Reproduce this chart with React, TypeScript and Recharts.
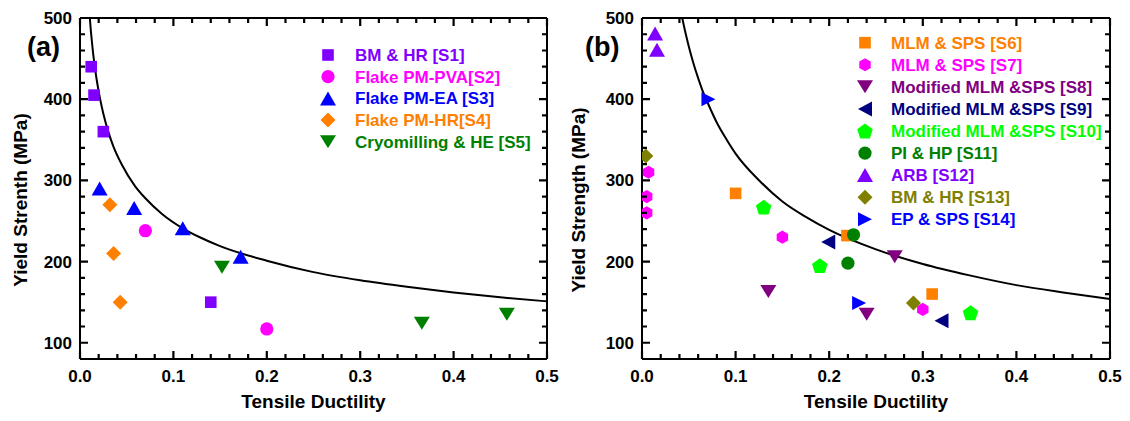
import React from 'react';
import { ComposedChart, Scatter, Line, XAxis, YAxis, ReferenceLine, Legend } from 'recharts';

const FONT = "'Liberation Sans', Arial, Helvetica, sans-serif";

// ---------- axes ----------
const xTicks = [0, 0.02, 0.04, 0.06, 0.08, 0.1, 0.12, 0.14, 0.16, 0.18, 0.2, 0.22, 0.24, 0.26, 0.28, 0.3, 0.32, 0.34, 0.36, 0.38, 0.4, 0.42, 0.44, 0.46, 0.48, 0.5];
const xMajor = [0, 0.1, 0.2, 0.3, 0.4, 0.5];
const xMajorLabels = ['0.0', '0.1', '0.2', '0.3', '0.4', '0.5'];
const yTicks = [100, 120, 140, 160, 180, 200, 220, 240, 260, 280, 300, 320, 340, 360, 380, 400, 420, 440, 460, 480, 500];
const yMajor = [100, 200, 300, 400, 500];
const yMajorLabels = ['100', '200', '300', '400', '500'];

// ---------- panel (a) ----------
const curveA = [
  { x: 0.0105, y: 500 }, { x: 0.0118, y: 482 }, { x: 0.013, y: 468 }, { x: 0.0145, y: 452 },
  { x: 0.016, y: 439 }, { x: 0.018, y: 423 }, { x: 0.0214, y: 401 }, { x: 0.025, y: 382 },
  { x: 0.03, y: 361 }, { x: 0.0357, y: 342 }, { x: 0.045, y: 319 }, { x: 0.0589, y: 293 },
  { x: 0.07, y: 278 }, { x: 0.0875, y: 259 }, { x: 0.11, y: 241 }, { x: 0.13, y: 229 },
  { x: 0.15, y: 219 }, { x: 0.2, y: 201 }, { x: 0.25, y: 187 }, { x: 0.3, y: 177 },
  { x: 0.35, y: 169 }, { x: 0.4, y: 162 }, { x: 0.45, y: 156 }, { x: 0.5, y: 151 },
];
const bmHrS1 = [{ x: 0.012, y: 440 }, { x: 0.015, y: 405 }, { x: 0.025, y: 360 }, { x: 0.14, y: 150 }];
const flakePvaS2 = [{ x: 0.07, y: 238 }, { x: 0.2, y: 117 }];
const flakeEaS3 = [{ x: 0.021, y: 290 }, { x: 0.058, y: 266 }, { x: 0.11, y: 241 }, { x: 0.172, y: 206 }];
const flakeHrS4 = [{ x: 0.032, y: 270 }, { x: 0.036, y: 210 }, { x: 0.043, y: 150 }];
const cryoS5 = [{ x: 0.152, y: 193 }, { x: 0.366, y: 124 }, { x: 0.457, y: 135 }];

// ---------- panel (b) ----------
const curveB = [
  { x: 0.043, y: 500 }, { x: 0.047, y: 479 }, { x: 0.05, y: 465 }, { x: 0.055, y: 444 },
  { x: 0.06, y: 426 }, { x: 0.0655, y: 408 }, { x: 0.07, y: 396 }, { x: 0.08, y: 371 },
  { x: 0.09, y: 351 }, { x: 0.1, y: 333 }, { x: 0.126, y: 299 }, { x: 0.15, y: 274 },
  { x: 0.175, y: 255 }, { x: 0.2, y: 239 }, { x: 0.25, y: 215 }, { x: 0.3, y: 197 },
  { x: 0.35, y: 183 }, { x: 0.4, y: 171 }, { x: 0.45, y: 162 }, { x: 0.5, y: 154 },
];
const mlmS6 = [{ x: 0.1, y: 284 }, { x: 0.219, y: 232 }, { x: 0.31, y: 160 }];
const mlmS7 = [{ x: 0.007, y: 310 }, { x: 0.005, y: 280 }, { x: 0.005, y: 260 }, { x: 0.15, y: 230 }, { x: 0.3, y: 141 }];
const modS8 = [{ x: 0.135, y: 163 }, { x: 0.24, y: 135 }, { x: 0.27, y: 206 }];
const modS9 = [{ x: 0.199, y: 224 }, { x: 0.32, y: 127 }];
const modS10 = [{ x: 0.13, y: 267 }, { x: 0.19, y: 195 }, { x: 0.351, y: 137 }];
const piHpS11 = [{ x: 0.226, y: 233 }, { x: 0.22, y: 198 }];
const arbS12 = [{ x: 0.014, y: 481 }, { x: 0.016, y: 461 }];
const bmHrS13 = [{ x: 0.004, y: 330 }, { x: 0.29, y: 149 }];
const epSpsS14 = [{ x: 0.071, y: 400 }, { x: 0.232, y: 149 }];

const seriesA = [
  { name: 'BM & HR [S1]', color: '#8000FF', kind: 'square', data: bmHrS1 },
  { name: 'Flake PM-PVA[S2]', color: '#FF00FF', kind: 'circle', data: flakePvaS2 },
  { name: 'Flake PM-EA [S3]', color: '#0000FF', kind: 'up', data: flakeEaS3 },
  { name: 'Flake PM-HR[S4]', color: '#FF8000', kind: 'diamond', data: flakeHrS4 },
  { name: 'Cryomilling & HE [S5]', color: '#008000', kind: 'down', data: cryoS5 },
];
const seriesB = [
  { name: 'MLM & SPS [S6]', color: '#FF8000', kind: 'square', data: mlmS6 },
  { name: 'MLM & SPS [S7]', color: '#FF00FF', kind: 'hexagon', data: mlmS7 },
  { name: 'Modified MLM &SPS [S8]', color: '#800080', kind: 'down', data: modS8 },
  { name: 'Modified MLM &SPS [S9]', color: '#000080', kind: 'left', data: modS9 },
  { name: 'Modified MLM &SPS [S10]', color: '#00FF00', kind: 'pentagon', data: modS10 },
  { name: 'PI & HP [S11]', color: '#008000', kind: 'circle', data: piHpS11 },
  { name: 'ARB [S12]', color: '#8000FF', kind: 'up', data: arbS12 },
  { name: 'BM & HR [S13]', color: '#808000', kind: 'diamond', data: bmHrS13 },
  { name: 'EP & SPS [S14]', color: '#0000FF', kind: 'right', data: epSpsS14 },
];

// ---------- markers ----------
function poly(cx: number, cy: number, r: number, n: number, start: number, dy = 0) {
  const pts: string[] = [];
  for (let i = 0; i < n; i++) {
    const a = ((start + (360 / n) * i) * Math.PI) / 180;
    pts.push(`${cx + r * Math.cos(a)},${cy + dy + r * Math.sin(a)}`);
  }
  return pts.join(' ');
}

function Marker({ kind, cx, cy, color }: { kind: string; cx: number; cy: number; color: string }) {
  if (cx == null || cy == null || isNaN(cx) || isNaN(cy)) return null;
  switch (kind) {
    case 'square':
      return <rect x={cx - 5.8} y={cy - 5.8} width={11.6} height={11.6} fill={color} />;
    case 'circle':
      return <circle cx={cx} cy={cy} r={6.6} fill={color} />;
    case 'up':
      return <polygon points={`${cx},${cy - 7} ${cx - 8},${cy + 7} ${cx + 8},${cy + 7}`} fill={color} />;
    case 'down':
      return <polygon points={`${cx - 8},${cy - 6.5} ${cx + 8},${cy - 6.5} ${cx},${cy + 6.5}`} fill={color} />;
    case 'left':
      return <polygon points={`${cx - 7},${cy} ${cx + 7},${cy - 7.5} ${cx + 7},${cy + 7.5}`} fill={color} />;
    case 'right':
      return <polygon points={`${cx + 7},${cy} ${cx - 7},${cy - 7} ${cx - 7},${cy + 7}`} fill={color} />;
    case 'diamond':
      return <polygon points={`${cx},${cy - 7.5} ${cx + 7.5},${cy} ${cx},${cy + 7.5} ${cx - 7.5},${cy}`} fill={color} />;
    case 'hexagon':
      return <polygon points={poly(cx, cy, 6.6, 6, -90)} fill={color} />;
    case 'pentagon':
      return <polygon points={poly(cx, cy, 8.2, 5, -90, 0.8)} fill={color} />;
    default:
      return null;
  }
}

// ---------- ticks ----------
const idxOf = (arr: number[], v: number) => arr.findIndex((m) => Math.abs(m - v) < 1e-9);

const makeXTick = (plotH: number) => (props: any) => {
  const { x, y, payload } = props;
  const mi = idxOf(xMajor, payload.value);
  const len = mi >= 0 ? 8 : 5;
  return (
    <g>
      <path d={`M${x},${y}V${y - len}M${x},${y - plotH}V${y - plotH + len}`} stroke="#000" strokeWidth={2.2} fill="none" />
      {mi >= 0 && (
        <text x={x} y={y + 23} textAnchor="middle" fontFamily={FONT} fontWeight="bold" fontSize={17} fill="#000">
          {xMajorLabels[mi]}
        </text>
      )}
    </g>
  );
};

const makeYTick = (plotW: number) => (props: any) => {
  const { x, y, payload } = props;
  const mi = idxOf(yMajor, payload.value);
  const len = mi >= 0 ? 8 : 5;
  return (
    <g>
      <path d={`M${x},${y}H${x + len}M${x + plotW},${y}H${x + plotW - len}`} stroke="#000" strokeWidth={2.2} fill="none" />
      {mi >= 0 && (
        <text x={x - 8} y={y + 6} textAnchor="end" fontFamily={FONT} fontWeight="bold" fontSize={17} fill="#000">
          {yMajorLabels[mi]}
        </text>
      )}
    </g>
  );
};

// ---------- panel ----------
type Series = { name: string; color: string; kind: string; data: { x: number; y: number }[] };

function Panel(props: {
  left: number;
  marginLeft: number;
  marginRight: number;
  curve: { x: number; y: number }[];
  series: Series[];
  yTitle: string;
  yTitleGap: number;
  panelLabel: string;
  panelLabelX: number;
  legendMarkerX: number;
  legendTextX: number;
  legendY0: number;
  legendDy: number;
}) {
  const W = 565;
  const H = 421;
  const top = 18;
  const bottom = 32;
  const xAxisH = 30;
  const yAxisW = 60;
  const plotW = W - props.marginLeft - yAxisW - props.marginRight;
  const plotH = H - top - bottom - xAxisH;

  const legendContent = () => (
    <svg width={W} height={H} style={{ display: 'block', pointerEvents: 'none' }}>
      <text x={props.panelLabelX} y={56} fontFamily={FONT} fontWeight="bold" fontSize={27} fill="#000">
        {props.panelLabel}
      </text>
      {props.series.map((s, i) => {
        const cy = props.legendY0 + i * props.legendDy;
        return (
          <g key={s.name}>
            <Marker kind={s.kind} cx={props.legendMarkerX} cy={cy} color={s.color} />
            <text x={props.legendTextX} y={cy + 6} fontFamily={FONT} fontWeight="bold" fontSize={17} fill={s.color}>
              {s.name}
            </text>
          </g>
        );
      })}
    </svg>
  );

  return (
    <div style={{ position: 'absolute', left: props.left, top: 0, width: W, height: H }}>
      <ComposedChart
        width={W}
        height={H}
        margin={{ top, right: props.marginRight, bottom, left: props.marginLeft }}
      >
        <XAxis
          xAxisId={0}
          type="number"
          dataKey="x"
          domain={[0, 0.5]}
          allowDataOverflow
          ticks={xTicks}
          interval={0}
          tickLine={false}
          tickSize={0}
          tickMargin={0}
          height={xAxisH}
          axisLine={{ stroke: '#000', strokeWidth: 2 }}
          tick={makeXTick(plotH)}
          label={{
            content: (lp: any) => {
              const vb = lp.viewBox || { x: props.marginLeft + yAxisW, y: top + plotH, width: plotW };
              return (
                <text x={vb.x + vb.width / 2} y={vb.y + 49} textAnchor="middle" fontFamily={FONT} fontWeight="bold" fontSize={19} fill="#000">
                  Tensile Ductility
                </text>
              );
            },
          }}
        />
        <YAxis
          yAxisId={0}
          type="number"
          dataKey="y"
          domain={[80, 500]}
          allowDataOverflow
          ticks={yTicks}
          interval={0}
          tickLine={false}
          tickSize={0}
          tickMargin={0}
          width={yAxisW}
          axisLine={{ stroke: '#000', strokeWidth: 2 }}
          tick={makeYTick(plotW)}
          label={{
            content: (lp: any) => {
              const vb = lp.viewBox || { x: props.marginLeft, y: top, width: yAxisW, height: plotH };
              const tx = vb.x + vb.width - props.yTitleGap;
              const ty = vb.y + vb.height / 2 + 11.5;
              return (
                <text
                  x={tx}
                  y={ty}
                  textAnchor="middle"
                  transform={`rotate(-90, ${tx}, ${ty})`}
                  fontFamily={FONT}
                  fontWeight="bold"
                  fontSize={19}
                  fill="#000"
                >
                  {props.yTitle}
                </text>
              );
            },
          }}
        />
        <ReferenceLine y={500} stroke="#000" strokeWidth={2} />
        <ReferenceLine x={0.5} stroke="#000" strokeWidth={2} />
        <Line
          data={props.curve}
          dataKey="y"
          type="monotone"
          stroke="#000"
          strokeWidth={2}
          dot={false}
          activeDot={false}
          isAnimationActive={false}
        />
        {props.series.map((s) => (
          <Scatter
            key={s.name}
            name={s.name}
            data={s.data}
            dataKey="y"
            isAnimationActive={false}
            shape={(p: any) => <Marker kind={s.kind} cx={p.cx} cy={p.cy} color={s.color} />}
          />
        ))}
        <Legend
          verticalAlign="middle"
          align="center"
          layout="horizontal"
          content={legendContent}
          wrapperStyle={{ left: 0, top: 0, width: W, height: H, pointerEvents: 'none' }}
        />
      </ComposedChart>
    </div>
  );
}

export default function App() {
  return (
    <div style={{ position: 'absolute', left: 0, top: 0, width: 1130, height: 421, background: '#fff' }}>
      <Panel
        left={0}
        marginLeft={20}
        marginRight={18}
        curve={curveA}
        series={seriesA}
        yTitle="Yield Strenth (MPa)"
        yTitleGap={53.5}
        panelLabel="(a)"
        panelLabelX={27}
        legendMarkerX={328}
        legendTextX={355}
        legendY0={55}
        legendDy={21.7}
      />
      <Panel
        left={565}
        marginLeft={17}
        marginRight={20}
        curve={curveB}
        series={seriesB}
        yTitle="Yield Strength (MPa)"
        yTitleGap={57}
        panelLabel="(b)"
        panelLabelX={20}
        legendMarkerX={300}
        legendTextX={326}
        legendY0={42.7}
        legendDy={22.07}
      />
    </div>
  );
}
